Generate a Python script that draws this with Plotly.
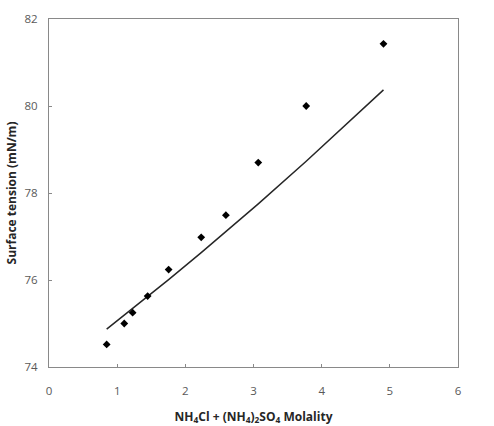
import plotly.graph_objects as go

molality = [0.846, 1.104, 1.227, 1.447, 1.755, 2.233, 2.595, 3.07, 3.773, 4.907]
tension_measured = [74.52, 75.00, 75.25, 75.63, 76.24, 76.98, 77.49, 78.70, 80.00, 81.43]
tension_model = [74.87, 75.19, 75.34, 75.62, 76.01, 76.63, 77.11, 77.75, 78.73, 80.37]

x_ticks = [0, 1, 2, 3, 4, 5, 6]
y_ticks = [74, 76, 78, 80, 82]

fig = go.Figure()
fig.add_trace(go.Scatter(x=molality, y=tension_model, mode="lines",
                         line=dict(color="#262626", width=1.5), showlegend=False))
fig.add_trace(go.Scatter(x=molality, y=tension_measured, mode="markers",
                         marker=dict(symbol="diamond", color="black", size=6),
                         showlegend=False))

axis_common = dict(showgrid=False, zeroline=False, showline=True, mirror=True,
                   linecolor="#898989", linewidth=1.2, ticks="inside", ticklen=3,
                   tickcolor="#898989", automargin=False,
                   tickfont=dict(family="Open Sans", size=11.5, color="#595959"))

fig.update_layout(
    width=494, height=426,
    margin=dict(l=49, r=36, t=19, b=59),
    plot_bgcolor="white", paper_bgcolor="white",
    xaxis=dict(range=[0, 6], tickvals=x_ticks, ticklabelstandoff=13,
               title=dict(text="<b>NH<sub>4</sub>Cl + (NH<sub>4</sub>)<sub>2</sub>SO<sub>4</sub> Molality</b>",
                          font=dict(family="Open Sans", size=12, color="#262626"), standoff=15),
               **axis_common),
    yaxis=dict(range=[74, 82], tickvals=y_ticks, ticklabelstandoff=8,
               title=dict(text="<b>Surface tension (mN/m)</b>",
                          font=dict(family="Open Sans", size=12, color="#262626"), standoff=5),
               **axis_common),
)
fig.write_html("out.html", config={"displayModeBar": False},
               post_script="document.body.style.margin='0';")
